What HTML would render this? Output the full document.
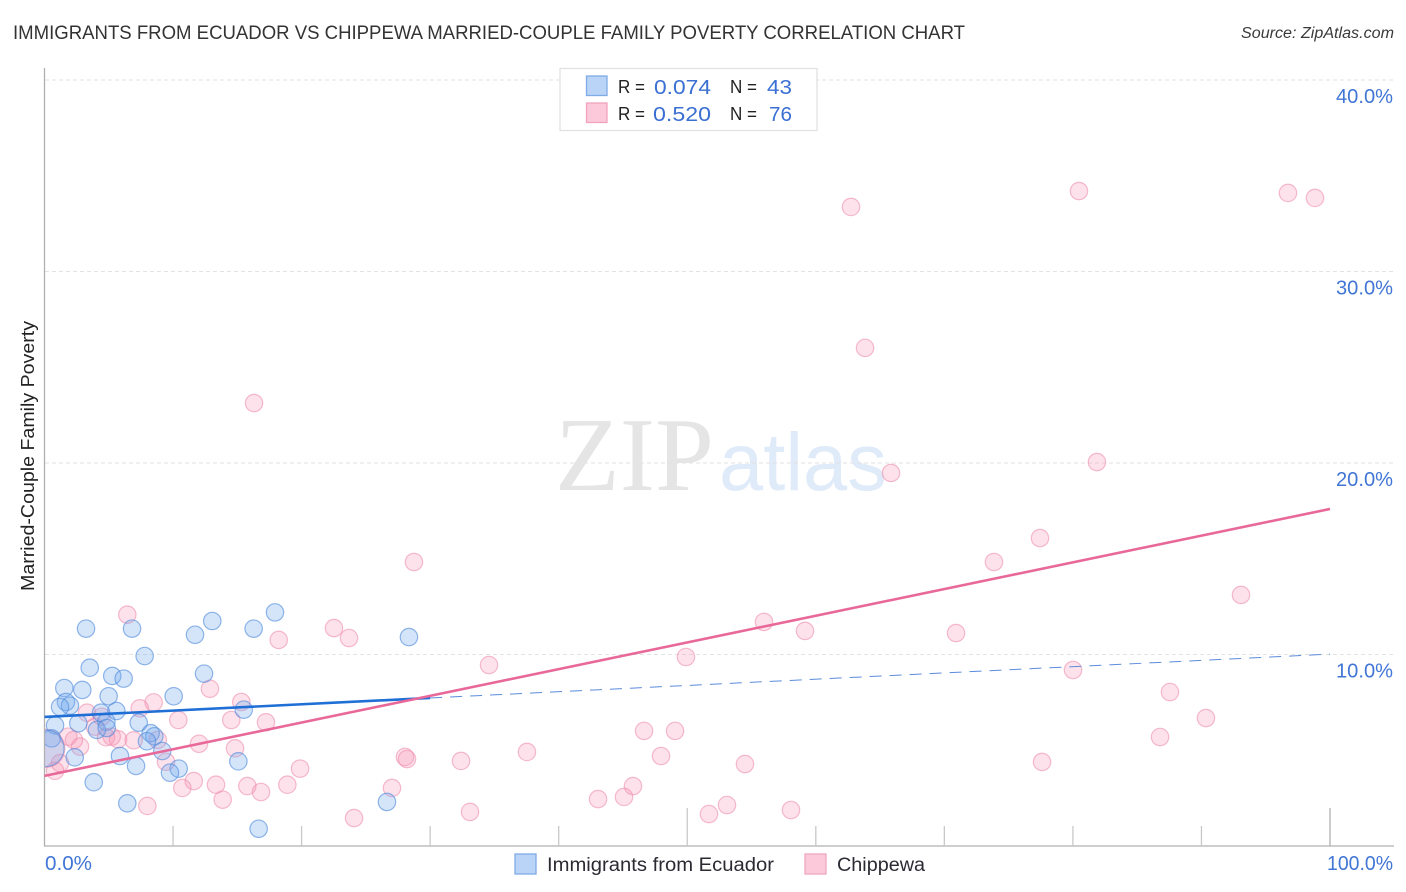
<!DOCTYPE html>
<html lang="en">
<head>
<meta charset="utf-8">
<title>Immigrants from Ecuador vs Chippewa Married-Couple Family Poverty Correlation Chart</title>
<style>
html,body{margin:0;padding:0;background:#fff;}
svg{display:block;font-family:"Liberation Sans",sans-serif;}
</style>
</head>
<body>
<svg id="chart" xmlns="http://www.w3.org/2000/svg" width="1406" height="892" viewBox="0 0 1406 892">
  <defs><clipPath id="plot-clip"><rect x="45" y="60" width="1349" height="786"/></clipPath></defs>
  <rect x="0" y="0" width="1406" height="892" fill="#fff"/>
  <text x="13" y="39" font-size="19.5" fill="#333" textLength="952" lengthAdjust="spacingAndGlyphs">IMMIGRANTS FROM ECUADOR VS CHIPPEWA MARRIED-COUPLE FAMILY POVERTY CORRELATION CHART</text>
  <text x="1241" y="38" font-size="15.5" font-style="italic" fill="#3a3a3a" textLength="153" lengthAdjust="spacingAndGlyphs">Source: ZipAtlas.com</text>
  <g>
    <text x="555" y="490" font-size="105" font-family="'Liberation Serif',serif" fill="#e5e5e5" textLength="159" lengthAdjust="spacingAndGlyphs">ZIP</text>
    <text x="719" y="490" font-size="82" fill="#e0ebfa" textLength="168" lengthAdjust="spacingAndGlyphs">atlas</text>
  </g>
  <g id="grid"></g>
  <g id="axes"></g>
  <g id="points" clip-path="url(#plot-clip)"></g>
  <g id="trends"></g>
  <g id="tick-labels"></g>
  <text transform="translate(34,591) rotate(-90)" x="0" y="0" font-size="18.5" fill="#222" textLength="270" lengthAdjust="spacingAndGlyphs">Married-Couple Family Poverty</text>

  <g>
    <rect x="560" y="68.5" width="257" height="62" fill="#fff" stroke="#e0e0e0" stroke-width="1.2"/>
    <rect x="586.5" y="76" width="20.5" height="19.5" fill="#b9d4f7" stroke="#7fabe6" stroke-width="1.3"/>
    <rect x="586.5" y="103" width="20.5" height="19.5" fill="#fcc9da" stroke="#f2a3bc" stroke-width="1.3"/>
    <text x="618" y="93" font-size="18.5" fill="#222" textLength="27" lengthAdjust="spacingAndGlyphs">R =</text>
    <text x="654" y="94" font-size="20.5" fill="#3a70d2" textLength="57" lengthAdjust="spacingAndGlyphs">0.074</text>
    <text x="730" y="93" font-size="18.5" fill="#222" textLength="27" lengthAdjust="spacingAndGlyphs">N =</text>
    <text x="767" y="94" font-size="20.5" fill="#3a70d2" textLength="25" lengthAdjust="spacingAndGlyphs">43</text>
    <text x="618" y="120" font-size="18.5" fill="#222" textLength="27" lengthAdjust="spacingAndGlyphs">R =</text>
    <text x="653" y="121" font-size="20.5" fill="#3a70d2" textLength="58" lengthAdjust="spacingAndGlyphs">0.520</text>
    <text x="730" y="120" font-size="18.5" fill="#222" textLength="27" lengthAdjust="spacingAndGlyphs">N =</text>
    <text x="769" y="121" font-size="20.5" fill="#3a70d2" textLength="23" lengthAdjust="spacingAndGlyphs">76</text>
  </g>

  <g>
    <g>
      <rect x="515" y="854" width="21" height="20" fill="#b9d4f7" stroke="#7fabe6" stroke-width="1.3"/>
      <text x="547" y="871" font-size="19" fill="#2a2a33" textLength="227" lengthAdjust="spacingAndGlyphs">Immigrants from Ecuador</text>
    </g>
    <g>
      <rect x="805" y="854" width="21" height="20" fill="#fcc9da" stroke="#f0a8bf" stroke-width="1.3"/>
      <text x="837" y="871" font-size="19" fill="#2a2a33" textLength="88" lengthAdjust="spacingAndGlyphs">Chippewa</text>
    </g>
  </g>
</svg>
<script>
// Chart data (x = percent of Immigrants from Ecuador, y = married-couple family poverty percent)
const yTickValues = [10, 20, 30, 40];
const yTickLabels = ["10.0%", "20.0%", "30.0%", "40.0%"];
const xTickValues = [10, 20, 30, 40, 50, 60, 70, 80, 90, 100];
const xMajorTicks = [50, 100];
const xEndLabels = ["0.0%", "100.0%"];

const ecuadorX = [3.23,6.81,7.79,3.52,5.27,6.16,11.71,13.05,16.27,17.93,12.41,1.54,2.94,4.99,10.05,1.67,1.98,1.21,5.59,4.40,15.50,2.63,0.82,7.33,4.81,4.08,4.84,8.26,8.54,7.97,0.56,9.16,2.35,5.87,15.08,7.12,10.44,9.76,3.83,6.44,16.66,28.35,26.64,0.10];
const ecuadorY = [11.35,11.35,9.92,9.31,8.88,8.74,11.03,11.75,11.35,12.20,9.00,8.25,8.15,7.82,7.82,7.52,7.33,7.26,7.05,6.96,7.12,6.41,6.30,6.44,6.49,6.06,6.16,5.89,5.73,5.47,5.62,4.96,4.63,4.70,4.42,4.18,4.04,3.83,3.33,2.23,0.90,10.91,2.30,5.10];
const ecuadorSize = [1,1,1,1,1,1,1,1,1,1,1,1,1,1,1,1,1,1,1,1,1,1,1,1,1,1,1,1,1,1,1,1,1,1,1,1,1,1,1,1,1,1,1,2.1];

const chippewaX = [6.44,18.22,12.87,8.49,7.41,3.31,15.31,10.41,14.53,17.23,4.45,3.93,1.85,2.29,2.76,4.78,5.72,5.23,6.94,8.81,12.02,14.82,9.45,19.88,0.82,11.61,10.72,13.34,13.86,15.78,16.84,18.89,8.00,16.30,28.74,22.52,23.69,34.58,32.40,37.53,28.04,28.20,27.03,24.08,33.10,43.06,45.08,45.78,46.64,49.05,47.96,53.09,51.69,54.49,58.07,55.97,59.16,49.90,62.74,63.83,65.85,80.47,81.87,77.44,73.86,70.91,80.01,77.60,87.55,90.35,86.78,93.08,96.73,98.83,1.21,0.10];
const chippewaY = [12.08,10.76,8.21,7.50,7.19,6.96,7.52,6.58,6.58,6.46,6.75,6.23,5.71,5.54,5.19,5.68,5.57,5.71,5.52,5.54,5.34,5.10,4.40,4.04,3.93,3.39,3.03,3.20,2.42,3.13,2.82,3.20,2.09,23.13,14.83,11.38,10.86,9.45,4.44,4.91,4.65,4.54,3.03,1.46,1.78,2.45,2.56,3.13,6.01,6.01,4.70,2.14,1.67,4.28,1.88,11.70,11.23,9.87,33.37,26.01,19.48,34.20,20.05,16.08,14.83,11.12,9.19,4.39,8.04,6.68,5.69,13.11,34.10,33.84,4.33,5.10];
const chippewaSize = [1,1,1,1,1,1,1,1,1,1,1,1,1,1,1,1,1,1,1,1,1,1,1,1,1,1,1,1,1,1,1,1,1,1,1,1,1,1,1,1,1,1,1,1,1,1,1,1,1,1,1,1,1,1,1,1,1,1,1,1,1,1,1,1,1,1,1,1,1,1,1,1,1,1,1,2.2];

const ecuadorTrendX = [0, 30, 100];
const ecuadorTrendY = [6.74, 7.73, 10.02];
const chippewaTrendX = [0, 100];
const chippewaTrendY = [3.66, 17.6];

const NS = 'http://www.w3.org/2000/svg';
const xPos = v => 44.5 + v * 12.855;
const yPos = v => 846 - v * 19.15;
const R = 8.7;

function make(tag, attrs, parent) {
  const el = document.createElementNS(NS, tag);
  for (const k in attrs) el.setAttribute(k, attrs[k]);
  parent.appendChild(el);
  return el;
}

const grid = document.getElementById('grid');
const axes = document.getElementById('axes');
const pointsG = document.getElementById('points');
const trends = document.getElementById('trends');
const labels = document.getElementById('tick-labels');

yTickValues.forEach((v, i) => {
  const line = make('line', {x1: 45, x2: 1393, y1: yPos(v), y2: yPos(v), stroke: '#e2e2e2', 'stroke-width': 1, 'stroke-dasharray': '4 3'}, grid);
  
  
  const t = make('text', {x: 1393, y: yPos(v) + 23, 'text-anchor': 'end', 'font-size': 20, fill: '#4176d6', textLength: 57, lengthAdjust: 'spacingAndGlyphs'}, labels);
  t.textContent = yTickLabels[i];
  
  
});

const yAxis = make('line', {x1: 44.5, x2: 44.5, y1: 68, y2: 846, stroke: '#b0b0b0', 'stroke-width': 1.3}, axes);


const xAxis = make('line', {x1: 44, x2: 1394, y1: 846, y2: 846, stroke: '#b0b0b0', 'stroke-width': 1.3}, axes);



xTickValues.forEach(v => {
  const major = xMajorTicks.includes(v);
  const tick = make('line', {x1: xPos(v), x2: xPos(v), y1: 846, y2: major ? 808 : 826, stroke: v === 100 ? '#b0b0b0' : '#c8c8c8', 'stroke-width': 1.3}, axes);
  
  
});

const x0Label = make('text', {x: 45, y: 870, 'font-size': 20, fill: '#4176d6', textLength: 47, lengthAdjust: 'spacingAndGlyphs'}, labels);
x0Label.textContent = xEndLabels[0];


const x100Label = make('text', {x: 1327, y: 870, 'font-size': 20, fill: '#4176d6', textLength: 66, lengthAdjust: 'spacingAndGlyphs'}, labels);
x100Label.textContent = xEndLabels[1];



chippewaX.forEach((v, i) => {
  const c = make('circle', {cx: xPos(v), cy: yPos(chippewaY[i]), r: R * chippewaSize[i], fill: '#f78fb3', 'fill-opacity': 0.26, stroke: '#ef8fae', 'stroke-opacity': 0.6, 'stroke-width': 1.2}, pointsG);
  
  
});
ecuadorX.forEach((v, i) => {
  const c = make('circle', {cx: xPos(v), cy: yPos(ecuadorY[i]), r: R * ecuadorSize[i], fill: '#72a9f0', 'fill-opacity': 0.3, stroke: '#4f8bdc', 'stroke-opacity': 0.62, 'stroke-width': 1.2}, pointsG);
  
  
});

const blueSolid = make('line', {x1: xPos(ecuadorTrendX[0]), y1: yPos(ecuadorTrendY[0]), x2: xPos(ecuadorTrendX[1]), y2: yPos(ecuadorTrendY[1]), stroke: '#1f6fd6', 'stroke-width': 2.6}, trends);


const blueDash = make('line', {x1: xPos(ecuadorTrendX[1]), y1: yPos(ecuadorTrendY[1]), x2: xPos(ecuadorTrendX[2]), y2: yPos(ecuadorTrendY[2]), stroke: '#5a8bdc', 'stroke-width': 1, 'stroke-dasharray': '12 8'}, trends);


const pinkLine = make('line', {x1: xPos(chippewaTrendX[0]), y1: yPos(chippewaTrendY[0]), x2: xPos(chippewaTrendX[1]), y2: yPos(chippewaTrendY[1]), stroke: '#e8689a', 'stroke-width': 2.6}, trends);


</script>
</body>
</html>
